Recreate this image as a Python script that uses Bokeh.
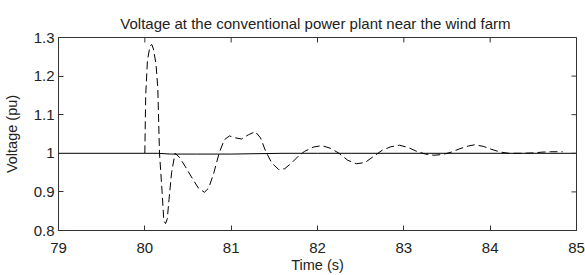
import math
from bokeh.plotting import figure
from bokeh.models import Range1d, FixedTicker
from bokeh.embed import file_html
from bokeh.resources import INLINE

title_text = "Voltage at the conventional power plant near the  wind farm"
x_label = "Time (s)"
y_label = "Voltage (pu)"
x_ticks = [79, 80, 81, 82, 83, 84, 85]
y_ticks = [0.8, 0.9, 1.0, 1.1, 1.2, 1.3]

# solid trace
t_solid = [79.0, 80.0, 80.15, 80.3, 80.6, 81.0, 81.3, 81.6, 82.0, 85.0]
v_solid = [1.0, 1.0, 1.0, 0.998, 0.998, 0.998, 0.999, 1.0, 1.0, 1.0]

# dashed trace
t_dash = [80.0, 80.01, 80.03, 80.06, 80.08, 80.10, 80.13, 80.15, 80.17,
          80.20, 80.22, 80.24, 80.26, 80.28, 80.31, 80.35, 80.40, 80.47, 80.55,
          80.62, 80.69, 80.74, 80.80, 80.86, 80.92, 80.98, 81.05, 81.12, 81.20,
          81.28, 81.34, 81.40, 81.47, 81.55, 81.62, 81.70, 81.78, 81.85, 81.95,
          82.05, 82.15, 82.25, 82.35, 82.45, 82.55, 82.65, 82.75, 82.85, 82.95,
          83.05, 83.15, 83.25, 83.35, 83.45, 83.55, 83.65, 83.75, 83.82, 83.92,
          84.02, 84.12, 84.22, 84.35, 84.50, 84.60, 84.70, 84.84]
v_dash = [1.0, 1.15, 1.24, 1.278, 1.282, 1.27, 1.23, 1.17, 1.0,
          0.90, 0.825, 0.818, 0.83, 0.88, 0.95, 1.0, 0.99, 0.965, 0.935,
          0.91, 0.899, 0.91, 0.95, 1.0, 1.035, 1.045, 1.04, 1.037, 1.048,
          1.056, 1.04, 1.005, 0.975, 0.958, 0.96, 0.975, 0.993, 1.005, 1.016,
          1.02, 1.013, 1.0, 0.982, 0.973, 0.976, 0.992, 1.008, 1.017, 1.021,
          1.015, 1.005, 0.998, 0.995, 0.997, 1.003, 1.012, 1.019, 1.022, 1.018,
          1.01, 1.003, 1.0, 1.0, 1.001, 1.003, 1.004, 1.004]

FONT = "Liberation Sans"
AX = "#333333"
TXT = "#222222"

x0, x1 = x_ticks[0], x_ticks[-1]
y0, y1 = y_ticks[0], y_ticks[-1]

p = figure(width=585, height=275, output_backend="svg", toolbar_location=None,
           x_range=Range1d(x0, x1), y_range=Range1d(y0, y1),
           min_border_left=57, min_border_right=9, min_border_top=37,
           min_border_bottom=41)
p.title.text = title_text
p.title.align = "center"
p.title.text_font = FONT
p.title.text_font_size = "15px"
p.title.text_font_style = "normal"
p.title.text_color = TXT
p.title.standoff = 12

p.xgrid.visible = False
p.ygrid.visible = False
p.outline_line_color = AX
p.outline_line_width = 1
p.background_fill_color = "white"
p.border_fill_color = "white"

p.line(t_solid, v_solid, line_color="black", line_width=1)
p.line(t_dash, v_dash, line_color="black", line_width=1, line_dash="8 4")

# inward ticks on the top and right edges (half of each dash is clipped by the frame)
p.scatter(x=x_ticks, y=[y1] * len(x_ticks), marker="dash", angle=math.pi / 2,
          size=10, line_color=AX, line_width=1)
p.scatter(x=[x1] * len(y_ticks), y=y_ticks, marker="dash", angle=0,
          size=10, line_color=AX, line_width=1)

for ax in (p.xaxis[0], p.yaxis[0]):
    ax.axis_line_color = AX
    ax.major_tick_line_color = AX
    ax.major_tick_in = 5
    ax.major_tick_out = 0
    ax.minor_tick_line_color = None
    ax.major_label_text_font = FONT
    ax.major_label_text_font_size = "15px"
    ax.major_label_text_color = TXT
    ax.axis_label_text_font = FONT
    ax.axis_label_text_font_size = "14.5px"
    ax.axis_label_text_font_style = "normal"
    ax.axis_label_text_color = TXT

p.xaxis.ticker = FixedTicker(ticks=x_ticks)
p.yaxis.ticker = FixedTicker(ticks=y_ticks)
p.xaxis.axis_label = x_label
p.yaxis.axis_label = y_label
p.xaxis.major_label_standoff = 12
p.xaxis.axis_label_standoff = 1
p.yaxis.major_label_standoff = 4
p.yaxis.axis_label_standoff = 11

open("out.html", "w").write(file_html(p, INLINE))
